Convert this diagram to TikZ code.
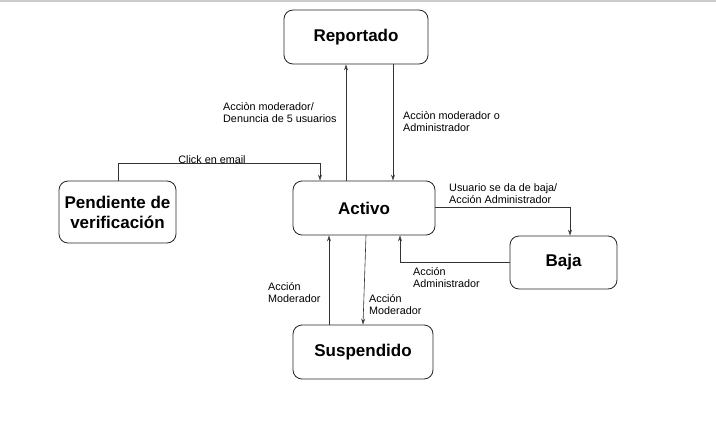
\documentclass[tikz,border=0pt]{standalone}
\usepackage{fontspec}
\setmainfont{Liberation Sans}
\usetikzlibrary{arrows.meta}
\begin{document}
\begin{tikzpicture}[x=1pt,y=-1pt,
  state/.style={draw=black!85, line width=0.8pt, rounded corners=9pt, minimum height=54pt, align=center, font=\fontsize{17}{20}\selectfont\bfseries, inner sep=2pt},
  lbl/.style={font=\fontsize{10.8}{12.5}\selectfont, align=left, anchor=north west, inner sep=0pt},
  conn/.style={draw=black!80, line width=0.6pt, -{Stealth[length=6pt,width=4pt,open]}}]
\useasboundingbox (0,0) rectangle (716,442);
\fill[white] (0,0) rectangle (716,442);
\draw[black!20, line width=1.5pt] (0,0.75) -- (716,0.75);
\node[state, minimum width=144pt] (rep) at (356,37) {Reportado};
\node[state, minimum width=142pt] (act) at (364,208) {Activo};
\node[state, minimum width=117pt, minimum height=62pt] (pen) at (117.5,212) {Pendiente de\\verificación};
\node[state, minimum width=107pt, minimum height=53pt] (baja) at (563.5,262.5) {Baja};
\node[state, minimum width=140pt] (sus) at (363,352) {Suspendido};
% Activo -> Reportado
\draw[conn] (act.north -| 346,0) -- (rep.south -| 346,0);
\node[lbl] at (223,102) {Acciòn moderador/\\Denuncia de 5 usuarios};
% Reportado -> Activo
\draw[conn] (rep.south -| 393,0) -- (act.north -| 393,0);
\node[lbl] at (403,111) {Acciòn moderador o\\Administrador};
% Pendiente -> Activo
\draw[conn] (pen.north -| 118,0) -- (118,163) -- (320,163) -- (act.north -| 320,0);
\node[lbl, anchor=south] at (212,163.5) {Click en email};
% Activo -> Baja
\draw[conn] (act.east |- 0,207) -- (570,207) -- (baja.north -| 570,0);
\node[lbl] at (449,183) {Usuario se da de baja/\\Acción Administrador};
% Baja -> Activo
\draw[conn] (baja.west |- 0,262) -- (400,262) -- (act.south -| 400,0);
\node[lbl] at (413,267) {Acción\\Administrador};
% Suspendido -> Activo
\draw[conn] (sus.north -| 329,0) -- (act.south -| 329,0);
\node[lbl] at (268,282) {Acción\\Moderador};
% Activo -> Suspendido
\draw[conn] (act.south -| 366,0) -- (sus.north -| 363,0);
\node[lbl] at (369,294) {Acción\\Moderador};
\end{tikzpicture}
\end{document}
